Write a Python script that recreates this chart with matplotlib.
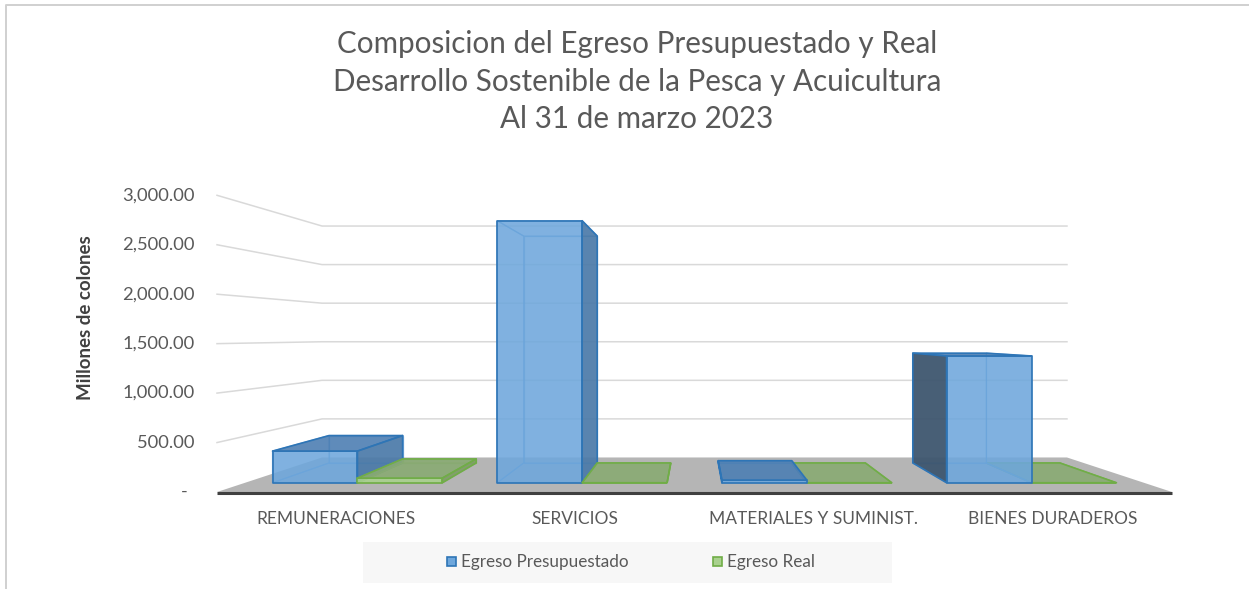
import matplotlib.pyplot as plt
from matplotlib.patches import Polygon, Rectangle

# ── datos ─────────────────────────────────────────────────────────────────────
categorias = ["REMUNERACIONES", "SERVICIOS", "MATERIALES Y SUMINIST.", "BIENES DURADEROS"]
presupuestado = [340, 2815, 28, 1362]
real = [50, 0, 0, 0]
series = ["Egreso Presupuestado", "Egreso Real"]
ticks = [0, 500, 1000, 1500, 2000, 2500, 3000]
tick_labels = ["-", "500.00", "1,000.00", "1,500.00", "2,000.00", "2,500.00", "3,000.00"]
titulo = ["Composicion del Egreso Presupuestado y Real",
          "Desarrollo Sostenible de la Pesca y Acuicultura",
          "Al 31 de marzo 2023"]

FONT = "Lato"
TXT = "#595959"

fig = plt.figure(figsize=(12.49, 5.89), dpi=100)
ax = fig.add_axes([0, 0, 1, 1])
ax.set_xlim(0, 1249)
ax.set_ylim(589, 0)
ax.axis("off")

# ── perspectiva (pantalla en pixeles) ─────────────────────────────────────────
X0, CW = 217, 238.75       # borde frontal del piso, ancho de categoria
Y0, VS = 492, 0.0989       # base y escala de valores en el plano frontal
VPX, VPY = 694.5, 335      # punto de fuga
K = 0.282                  # profundidad del piso -> escala 0.78 al fondo
BAR_W = 0.378
Z0, Z1 = 0.222, 0.805


def proj(c, v, z):
    xf = X0 + c * CW
    yf = Y0 - v * VS
    s = 1.0 / (1.0 + K * z)
    return (VPX + s * (xf - VPX), VPY + s * (yf - VPY))


n = len(categorias)

# piso
floor = [proj(0, 0, 0), proj(n, 0, 0), proj(n, 0, 1), proj(0, 0, 1)]
ax.add_patch(Polygon(floor, closed=True, facecolor="#b5b5b5", edgecolor="none", zorder=1))

# lineas de cuadricula: pared izquierda + pared del fondo
for t in ticks[1:]:
    pts = [proj(0, t, 0), proj(0, t, 1), proj(n, t, 1)]
    ax.plot([p[0] for p in pts], [p[1] for p in pts], color="#d9d9d9", lw=1.1, zorder=0.5)

# linea frontal del piso
a, b = proj(0, 0, 0), proj(n, 0, 0)
ax.plot([a[0], b[0]], [a[1] + 0.5, b[1] + 0.5], color="#404040", lw=2.2,
        solid_capstyle="butt", zorder=2)

# etiquetas del eje
for t, lab in zip(ticks, tick_labels):
    x, y = proj(0, t, 0)
    if lab == "-":
        ax.text(x - 33, y, lab, ha="center", va="center", fontsize=13.2,
                color=TXT, family=FONT)
    else:
        ax.text(x - 22, y, lab, ha="right", va="center", fontsize=13.2,
                color=TXT, family=FONT)

ax.text(86, 318, "Millones de colones", rotation=90, ha="center", va="center",
        fontsize=13.5, fontweight="bold", color="#404040", family=FONT)

# ── barras 3D ─────────────────────────────────────────────────────────────────
estilos = [
    dict(edge="#2e75b6", hidden="#4f8fd0", front="#6ea7dc", top="#4d7fb3",
         right="#4b7aa8", left="#3e566f"),
    dict(edge="#70ad47", hidden="#7fb35a", front="#a9d18e", top="#89aa73",
         right="#7e9e66", left="#6b8a55"),
]


def caja(c0, c1, v, st):
    p = {}
    for i, c in enumerate((c0, c1)):
        for j, vv in enumerate((0, v)):
            for k, z in enumerate((Z0, Z1)):
                p[(i, j, k)] = proj(c, vv, z)
    front = [p[(0, 0, 0)], p[(1, 0, 0)], p[(1, 1, 0)], p[(0, 1, 0)]]
    back = [p[(0, 0, 1)], p[(1, 0, 1)], p[(1, 1, 1)], p[(0, 1, 1)]]
    top = [p[(0, 1, 0)], p[(1, 1, 0)], p[(1, 1, 1)], p[(0, 1, 1)]]
    bottom = [p[(0, 0, 0)], p[(1, 0, 0)], p[(1, 0, 1)], p[(0, 0, 1)]]
    left = [p[(0, 0, 0)], p[(0, 0, 1)], p[(0, 1, 1)], p[(0, 1, 0)]]
    right = [p[(1, 0, 0)], p[(1, 0, 1)], p[(1, 1, 1)], p[(1, 1, 0)]]

    xl, xr = p[(0, 0, 0)][0], p[(1, 0, 0)][0]
    ytop = p[(0, 1, 0)][1]
    visibles = [(front, st["front"], 0.88)]
    ocultas = [back, bottom]
    if ytop > VPY:
        visibles.append((top, st["top"], 0.9))
    else:
        ocultas.append(top)
    if xr < VPX:
        visibles.append((right, st["right"], 0.92))
        ocultas.append(left)
    elif xl > VPX:
        visibles.append((left, st["left"], 0.95))
        ocultas.append(right)
    for f in ocultas:
        ax.add_patch(Polygon(f, closed=True, facecolor="none", edgecolor=st["hidden"],
                             lw=0.9, alpha=0.7, zorder=3))
    for f, col, al in visibles:
        ax.add_patch(Polygon(f, closed=True, facecolor=col, alpha=al, edgecolor="none",
                             zorder=3))
        ax.add_patch(Polygon(f, closed=True, facecolor="none", edgecolor=st["edge"],
                             lw=1.2, joinstyle="round", zorder=3))


cajas = []
for i in range(n):
    c = i + 0.5
    cajas.append((c - BAR_W, c, presupuestado[i], estilos[0]))
    cajas.append((c, c + BAR_W, real[i], estilos[1]))
# las mas lejanas del punto de fuga primero
cajas.sort(key=lambda b: -abs(proj((b[0] + b[1]) / 2, 0, 0)[0] - VPX))
for c0, c1, v, st in cajas:
    caja(c0, c1, v, st)

# etiquetas de categoria
for i, cat in enumerate(categorias):
    x, _ = proj(i + 0.5, 0, 0)
    ax.text(x, 519, cat, ha="center", va="center", fontsize=12.5, color=TXT, family=FONT)

# ── titulo ────────────────────────────────────────────────────────────────────
for k, linea in enumerate(titulo):
    ax.text(637, 44 + 37.5 * k, linea, ha="center", va="center", fontsize=21.3,
            color=TXT, family=FONT)

# ── leyenda ───────────────────────────────────────────────────────────────────
ax.add_patch(Rectangle((363, 542), 529, 41, facecolor="#f7f7f7", edgecolor="none", zorder=1))
leg_x = [447, 713]
for lx, nombre, st in zip(leg_x, series, estilos):
    ax.add_patch(Rectangle((lx, 557), 9, 9, facecolor=st["front"], edgecolor=st["edge"],
                           lw=1.2, zorder=2))
    ax.text(lx + 14, 561.5, nombre, ha="left", va="center", fontsize=12.3, color=TXT,
            family=FONT)

# borde del grafico
ax.plot([6, 6, 1249], [589, 5, 5], color="#d0d0d0", lw=1.4, zorder=0)

fig.savefig("out.png", dpi=100, facecolor="white")
